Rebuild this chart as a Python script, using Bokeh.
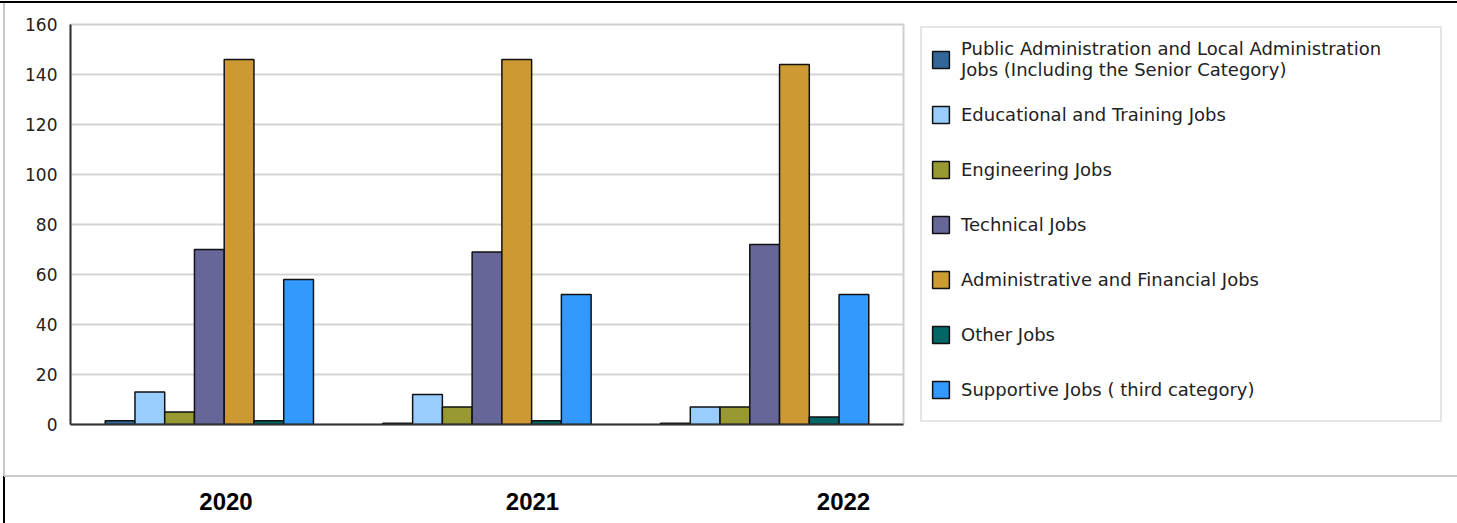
from bokeh.plotting import figure
from bokeh.layouts import row
from bokeh.models import (Range1d, LinearAxis, FixedTicker, SingleIntervalTicker,
                          Legend, LegendItem, ColumnDataSource)
from bokeh.transform import dodge
from bokeh.embed import file_html
from bokeh.resources import INLINE

# ---------------- data ----------------
YEARS = ["2020", "2021", "2022"]
SERIES_LABELS = [
    "Public Administration and Local Administration\nJobs (Including the Senior Category)",
    "Educational and Training Jobs",
    "Engineering Jobs",
    "Technical Jobs",
    "Administrative and Financial Jobs",
    "Other Jobs",
    "Supportive Jobs ( third category)",
]
PUBLIC_ADMIN = [1.5, 0.5, 0.5]
EDUCATIONAL = [13, 12, 7]
ENGINEERING = [5, 7, 7]
TECHNICAL = [70, 69, 72]
ADMIN_FINANCIAL = [146, 146, 144]
OTHER = [1.5, 1.5, 3]
SUPPORTIVE = [58, 52, 52]

# ---------------- style ----------------
COLORS = ["#336699", "#99CCFF", "#999933", "#666699", "#CC9933", "#006666", "#3399FF"]
W, H = 1457, 523
CHART_W = 910
FRAME_L, FRAME_R, FRAME_T, FRAME_B = 70, 903, 24, 424
YEAR_LABEL_X = [225.5, 532.0, 843.0]   # screen x of the year captions row
LEG_MARGIN = 2

series_values = [PUBLIC_ADMIN, EDUCATIONAL, ENGINEERING, TECHNICAL,
                 ADMIN_FINANCIAL, OTHER, SUPPORTIVE]
keys = ["s%d" % i for i in range(len(series_values))]
data = {"year": YEARS, "xpos": [i + 0.5 for i in range(len(YEARS))]}
for k, v in zip(keys, series_values):
    data[k] = v
src = ColumnDataSource(data)

p = figure(x_range=Range1d(0, len(YEARS)), y_range=Range1d(0, 160),
           width=CHART_W, height=H, output_backend="svg", toolbar_location=None,
           x_axis_location=None,
           min_border_left=FRAME_L, min_border_right=CHART_W - FRAME_R,
           min_border_top=FRAME_T, min_border_bottom=H - FRAME_B)
p.background_fill_color = "white"
p.border_fill_alpha = 0
p.outline_line_color = "#cfcfcf"
p.outline_line_width = 2

p.xgrid.grid_line_color = None
p.ygrid.grid_line_color = "#d4d4d4"
p.ygrid.grid_line_width = 2

ya = p.yaxis[0]
ya.ticker = SingleIntervalTicker(interval=20)
ya.axis_line_color = "#333333"
ya.axis_line_width = 2
ya.major_tick_line_color = None
ya.minor_tick_line_color = None
ya.major_label_text_font = "DejaVu Sans"
ya.major_label_text_font_size = "17px"
ya.major_label_text_color = "#222222"
ya.major_label_standoff = 7

n = len(series_values)
group_w = 0.75
bw = group_w / n
offsets = [-group_w / 2 + bw * (i + 0.5) for i in range(n)]
for k, c, off in zip(keys, COLORS, offsets):
    p.vbar(x=dodge("xpos", off), top=k, width=bw, source=src,
           fill_color=c, line_color="#111111", line_width=1.5)

# year caption row
p.extra_x_ranges = {"years": Range1d(FRAME_L, FRAME_R)}
yr_axis = LinearAxis(x_range_name="years", ticker=FixedTicker(ticks=YEAR_LABEL_X),
                     major_label_overrides={x: y for x, y in zip(YEAR_LABEL_X, YEARS)})
yr_axis.axis_line_color = "#333333"
yr_axis.axis_line_width = 2
yr_axis.major_tick_line_color = None
yr_axis.minor_tick_line_color = None
yr_axis.major_label_text_font = "Liberation Sans"
yr_axis.major_label_text_font_style = "bold"
yr_axis.major_label_text_font_size = "24px"
yr_axis.major_label_text_color = "#000000"
yr_axis.major_label_standoff = 62
p.add_layout(yr_axis, "below")

# legend panel: the legend swatches come from hidden copies of the series renderers
pl = figure(width=W - CHART_W, height=H, output_backend="svg", toolbar_location=None,
            x_range=Range1d(0, len(YEARS)), y_range=Range1d(0, 160),
            x_axis_location=None, y_axis_location=None,
            min_border_left=8, min_border_right=0,
            min_border_top=FRAME_T, min_border_bottom=H - FRAME_B)
pl.background_fill_alpha = 0
pl.border_fill_alpha = 0
pl.outline_line_color = None
pl.xgrid.grid_line_color = None
pl.ygrid.grid_line_color = None
proxies = []
for k, c, off in zip(keys, COLORS, offsets):
    proxies.append(pl.vbar(x=dodge("xpos", off), top=k, width=bw, source=src,
                           fill_color=c, line_color="#111111", line_width=1.5,
                           visible=False))

legend = Legend(items=[LegendItem(label=l, renderers=[r]) for l, r in zip(SERIES_LABELS, proxies)],
                location="top_left", orientation="vertical",
                glyph_width=21, glyph_height=21, label_standoff=10,
                label_width=471, label_height=46, spacing=9, padding=8, margin=LEG_MARGIN,
                border_line_color="#cccccc", border_line_width=2,
                background_fill_color="white", background_fill_alpha=1,
                label_text_font="DejaVu Sans", label_text_font_size="18px",
                label_text_color="#222222", label_text_line_height=1.3)
pl.add_layout(legend)

layout = row(p, pl)
# page frame lines (top rule, left rules, caption-row separator) as CSS background
layout.styles = {
    "background-color": "white",
    "background-image": ("linear-gradient(#000,#000), linear-gradient(#c8c8c8,#c8c8c8), "
                         "linear-gradient(#cccccc,#cccccc), linear-gradient(#000,#000)"),
    "background-size": "100% 2px, 2px 474px, 100% 2px, 2px 47px",
    "background-position": "0px 1px, 3px 2px, 4px 475px, 3px 476px",
    "background-repeat": "no-repeat",
}

open("out.html", "w").write(file_html(layout, INLINE))
